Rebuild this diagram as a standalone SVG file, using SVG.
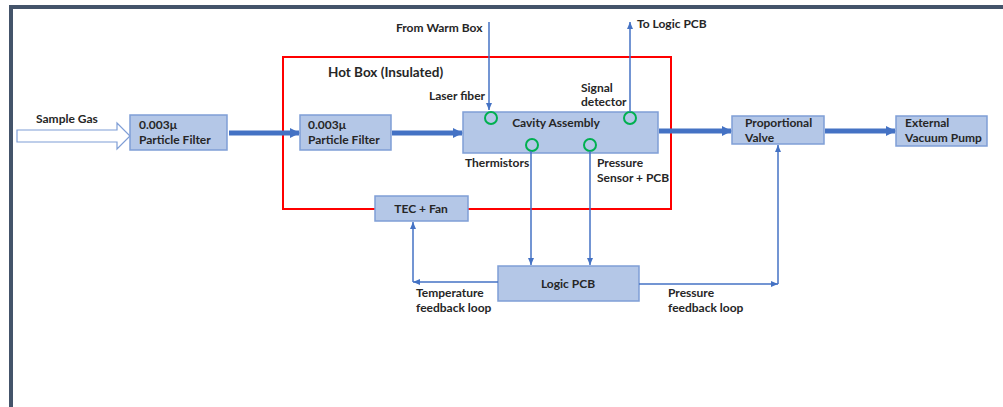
<svg xmlns="http://www.w3.org/2000/svg" width="1003" height="407" viewBox="0 0 1003 407">
<defs>
<style>
.box{fill:#B4C7E7;stroke:#7F9ED6;stroke-width:1.5}
.t{font-family:Lato,"Liberation Sans",sans-serif;font-weight:bold;font-size:12px;fill:#262626}
.thick{stroke:#4472C4;stroke-width:5;fill:none}
.thin{stroke:#4472C4;stroke-width:1.5;fill:none}
.ring{fill:none;stroke:#00B050;stroke-width:2}
</style>
<marker id="big" markerWidth="10" markerHeight="10" refX="9" refY="5" orient="auto" markerUnits="userSpaceOnUse">
<path d="M0,0 L10,5 L0,10 Z" fill="#4472C4"/>
</marker>
<marker id="small" markerWidth="8" markerHeight="8" refX="7" refY="4" orient="auto" markerUnits="userSpaceOnUse">
<path d="M0,1 L7,4 L0,7 Z" fill="#4472C4"/>
</marker>
</defs>
<rect x="0" y="0" width="1003" height="407" fill="#FFFFFF"/>
<rect x="9" y="5" width="994" height="4" fill="#44546A"/>
<rect x="9" y="5" width="4" height="402" fill="#44546A"/>

<g id="hotbox">
<rect x="283" y="57" width="388" height="152" fill="none" stroke="#FF0000" stroke-width="2"/>
<text class="t" x="328" y="77" style="font-size:13.5px">Hot Box (Insulated)</text>
</g>

<g id="sample-gas">
<path d="M17,130 L117,130 L117,123 L130,136 L117,149 L117,142 L17,142 Z" fill="#FFFFFF" stroke="#7F9ED6" stroke-width="1.2"/>
<text class="t" x="36" y="123">Sample Gas</text>
</g>

<g id="filter1">
<rect class="box" x="130" y="115" width="97" height="35"/>
<text class="t" x="139" y="129">0.003μ</text>
<text class="t" x="139" y="144">Particle Filter</text>
</g>

<g id="filter2">
<rect class="box" x="300" y="115" width="91" height="35"/>
<text class="t" x="308" y="129">0.003μ</text>
<text class="t" x="308" y="144">Particle Filter</text>
</g>

<g id="cavity">
<rect class="box" x="463" y="112" width="195" height="41"/>
<text class="t" x="556" y="127" text-anchor="middle">Cavity Assembly</text>
<circle class="ring" cx="491" cy="118" r="6"/>
<circle class="ring" cx="630" cy="118" r="6"/>
<circle class="ring" cx="532" cy="145" r="6"/>
<circle class="ring" cx="590" cy="145" r="6"/>
</g>

<g id="valve">
<rect class="box" x="732" y="116" width="92" height="28"/>
<text class="t" x="745" y="127">Proportional</text>
<text class="t" x="745" y="142">Valve</text>
</g>

<g id="pump">
<rect class="box" x="896" y="116" width="91" height="30"/>
<text class="t" x="905" y="127">External</text>
<text class="t" x="905" y="142">Vacuum Pump</text>
</g>

<g id="tec">
<rect class="box" x="375" y="196" width="93" height="25"/>
<text class="t" x="421" y="213" text-anchor="middle">TEC + Fan</text>
</g>

<g id="logic">
<rect class="box" x="498" y="266" width="141" height="35"/>
<text class="t" x="568" y="288" text-anchor="middle">Logic PCB</text>
</g>

<g id="labels">
<text class="t" x="396" y="32">From Warm Box</text>
<text class="t" x="637" y="28">To Logic PCB</text>
<text class="t" x="429" y="100">Laser fiber</text>
<text class="t" x="581" y="92">Signal</text>
<text class="t" x="581" y="106">detector</text>
<text class="t" x="465" y="167">Thermistors</text>
<text class="t" x="597" y="167">Pressure</text>
<text class="t" x="597" y="182">Sensor + PCB</text>
<text class="t" x="416" y="297">Temperature</text>
<text class="t" x="416" y="312">feedback loop</text>
<text class="t" x="668" y="297">Pressure</text>
<text class="t" x="668" y="312">feedback loop</text>
</g>

<g id="connectors">
<line class="thick" x1="229" y1="133" x2="299" y2="133" marker-end="url(#big)"/>
<line class="thick" x1="392" y1="133" x2="462" y2="133" marker-end="url(#big)"/>
<line class="thick" x1="659" y1="131" x2="731" y2="131" marker-end="url(#big)"/>
<line class="thick" x1="825" y1="131" x2="895" y2="131" marker-end="url(#big)"/>
<line class="thin" x1="489" y1="22" x2="489" y2="110" marker-end="url(#small)"/>
<line class="thin" x1="630" y1="112" x2="630" y2="22" marker-end="url(#small)"/>
<line class="thin" x1="531" y1="151" x2="531" y2="265" marker-end="url(#small)"/>
<line class="thin" x1="590" y1="151" x2="590" y2="265" marker-end="url(#small)"/>
<line class="thin" x1="498" y1="282" x2="413" y2="282" marker-end="url(#small)"/>
<line class="thin" x1="413" y1="282" x2="413" y2="222" marker-end="url(#small)"/>
<line class="thin" x1="639" y1="284" x2="778" y2="284" marker-end="url(#small)"/>
<line class="thin" x1="778" y1="284" x2="778" y2="145" marker-end="url(#small)"/>
</g>
</svg>
